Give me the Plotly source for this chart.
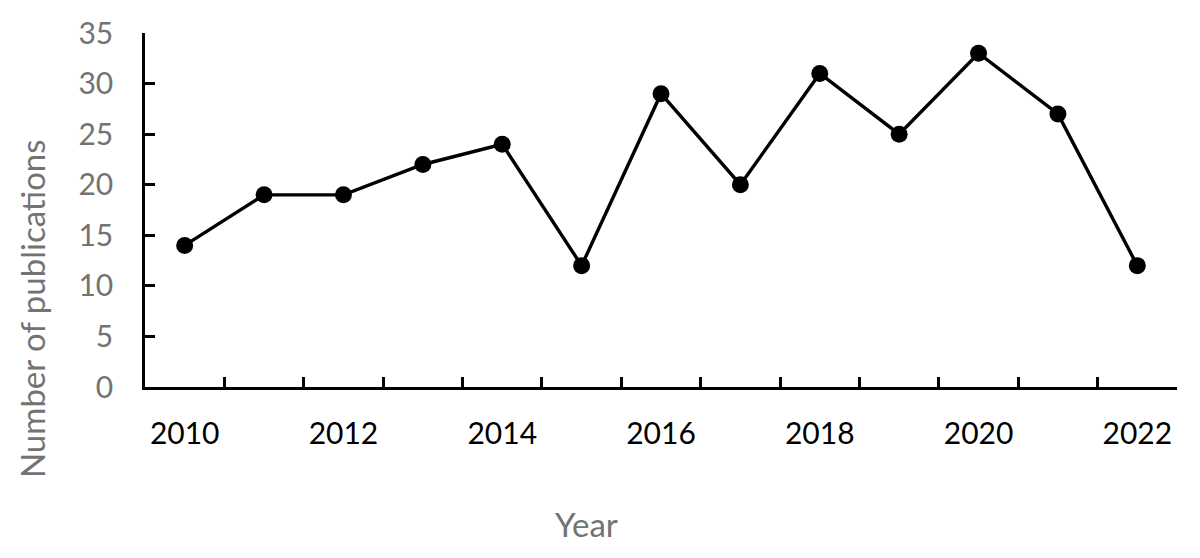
import plotly.graph_objects as go

# publications per year
years = [2010, 2011, 2012, 2013, 2014, 2015, 2016, 2017, 2018, 2019, 2020, 2021, 2022]
publications = [14, 19, 19, 22, 24, 12, 29, 20, 31, 25, 33, 27, 12]
label_years = [2010, 2012, 2014, 2016, 2018, 2020, 2022]
y_ticks = [0, 5, 10, 15, 20, 25, 30, 35]

FONT = "Lato"
GREY = "#737373"

# Excel style category axis: tick marks sit between the years
boundaries = [y - 0.5 for y in years] + [years[-1] + 0.5]

fig = go.Figure()
fig.add_trace(go.Scatter(x=years, y=publications, mode="lines+markers",
                         line=dict(color="black", width=3.4),
                         marker=dict(color="black", size=17),
                         showlegend=False))
# invisible trace so the label axis gets drawn
fig.add_trace(go.Scatter(x=years, y=publications, xaxis="x2", mode="markers",
                         marker=dict(opacity=0), showlegend=False, hoverinfo="skip"))

# axis titles as annotations: Excel does not centre them on the plot area
fig.add_annotation(text="Number of publications", textangle=-90,
                   xref="paper", yref="paper", x=-0.1095, y=0.223,
                   xanchor="center", yanchor="middle", showarrow=False,
                   font=dict(size=33, color=GREY, family=FONT))
fig.add_annotation(text="Year", xref="paper", yref="paper", x=0.428, y=-0.387,
                   xanchor="center", yanchor="middle", showarrow=False,
                   font=dict(size=33, color=GREY, family=FONT))

fig.update_layout(
    width=1200, height=558,
    paper_bgcolor="white", plot_bgcolor="white",
    margin=dict(l=137, r=31, t=25, b=179),
    font=dict(family=FONT),
    xaxis=dict(range=[boundaries[0], boundaries[-1]], tickvals=boundaries,
               showticklabels=False, ticks="inside", ticklen=10, tickwidth=2.5,
               tickcolor="black", showline=True, linecolor="black", linewidth=2.5,
               showgrid=False, zeroline=False, automargin=False),
    xaxis2=dict(overlaying="x", matches="x", anchor="y", side="bottom",
                tickvals=label_years, ticks="", showline=False, showgrid=False,
                zeroline=False, ticklabelstandoff=26, automargin=False,
                tickfont=dict(size=30, color="black", family=FONT)),
    yaxis=dict(range=[0, 35], tickvals=y_ticks, ticks="inside", ticklen=10,
               tickwidth=2.5, tickcolor="black", showline=True, linecolor="black",
               linewidth=2.5, showgrid=False, zeroline=False, ticklabelstandoff=23,
               automargin=False,
               tickfont=dict(size=30, color=GREY, family=FONT)),
)

fig.write_html("out.html")
